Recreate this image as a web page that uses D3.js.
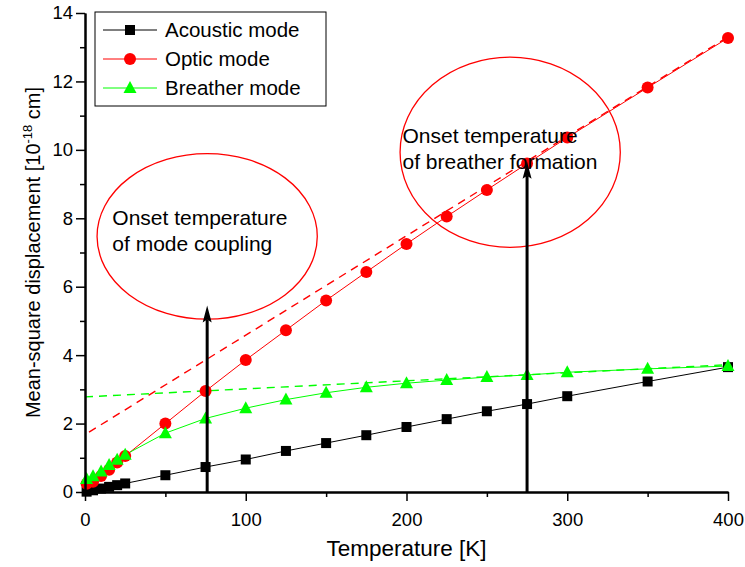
<!DOCTYPE html>
<html>
<head>
<meta charset="utf-8">
<script src="https://cdn.jsdelivr.net/npm/d3@7"></script>
<style>
  body { margin: 0; background: #fff; }
  svg text { font-family: "Liberation Sans", Arial, sans-serif; fill: #000; }
</style>
</head>
<body>
<div id="chart"></div>
<script>
// temperatures [K]
const temps = [1, 5, 10, 15, 20, 25, 50, 75, 100, 125, 150, 175, 200, 225, 250, 275, 300, 350, 400];
// mean-square displacement [1e-18 cm]
const acoustic = [0.01, 0.05, 0.1, 0.15, 0.2, 0.25, 0.49, 0.73, 0.95, 1.2, 1.43, 1.66, 1.9, 2.13, 2.36, 2.57, 2.8, 3.23, 3.65];
const optic = [0.24, 0.3, 0.47, 0.65, 0.86, 1.05, 2.0, 2.95, 3.86, 4.73, 5.6, 6.43, 7.25, 8.05, 8.83, 9.6, 10.36, 11.82, 13.27];
const breather = [0.38, 0.46, 0.6, 0.79, 0.94, 1.09, 1.72, 2.15, 2.45, 2.7, 2.9, 3.06, 3.18, 3.27, 3.36, 3.42, 3.5, 3.6, 3.68];

// dashed linear fits
const opticFitT = [2.5, 400];
const opticFit = [1.75, 13.3];
const breatherFitT = [0, 400];
const breatherFit = [2.78, 3.72];

// onset arrows
const onsetT = [76, 275];
const onsetTop = [5.45, 9.65];

// annotation ellipses (data units) and labels
const ellipses = [
  {cx: 76, cy: 7.47, rx: 68.5, ry: 2.42},
  {cx: 264.5, cy: 9.93, rx: 68.5, ry: 2.78}
];
const notes = [
  {t: 17, v: 7.8, lines: ['Onset temperature', 'of mode coupling']},
  {t: 197.5, v: 10.2, lines: ['Onset temperature', 'of breather formation']}
];

const xTicks = [0, 100, 200, 300, 400];
const yTicks = [0, 2, 4, 6, 8, 10, 12, 14];

const W = 745, H = 567;
const margin = {top: 13, right: 17, bottom: 75, left: 85};

const svg = d3.select('#chart').append('svg')
  .attr('width', W)
  .attr('height', H);

const x = d3.scaleLinear().domain([0, 400]).range([margin.left, W - margin.right]);
const y = d3.scaleLinear().domain([0, 14]).range([H - margin.bottom, margin.top]);

const series = [
  {name: 'Acoustic mode', values: acoustic, color: '#000', shape: 'square'},
  {name: 'Optic mode', values: optic, color: '#ff0000', shape: 'circle'},
  {name: 'Breather mode', values: breather, color: '#00ff00', shape: 'triangle'}
];

function marker(g, shape, color) {
  if (shape === 'square') {
    g.append('rect').attr('x', -5).attr('y', -5).attr('width', 10).attr('height', 10).attr('fill', color);
  } else if (shape === 'circle') {
    g.append('circle').attr('r', 6).attr('fill', color);
  } else {
    g.append('path').attr('d', 'M0,-7L6.5,5L-6.5,5Z').attr('fill', color);
  }
}

// ellipses
svg.append('g').selectAll('ellipse')
  .data(ellipses)
  .enter().append('ellipse')
  .attr('cx', d => x(d.cx))
  .attr('cy', d => y(d.cy))
  .attr('rx', d => x(d.rx) - x(0))
  .attr('ry', d => y(0) - y(d.ry))
  .attr('fill', 'none')
  .attr('stroke', '#ff0000')
  .attr('stroke-width', 1.3);

// dashed fits
const line = d3.line().x(d => x(d[0])).y(d => y(d[1]));
svg.append('path')
  .attr('d', line(d3.zip(opticFitT, opticFit)))
  .attr('fill', 'none').attr('stroke', '#ff0000').attr('stroke-width', 1.4)
  .attr('stroke-dasharray', '8,6');
svg.append('path')
  .attr('d', line(d3.zip(breatherFitT, breatherFit)))
  .attr('fill', 'none').attr('stroke', '#00ff00').attr('stroke-width', 1.4)
  .attr('stroke-dasharray', '8,6');

// series lines
series.forEach(s => {
  svg.append('path')
    .attr('d', line(d3.zip(temps, s.values)))
    .attr('fill', 'none')
    .attr('stroke', s.color)
    .attr('stroke-width', 1);
});

// markers
series.forEach(s => {
  svg.append('g').selectAll('g')
    .data(d3.zip(temps, s.values))
    .enter().append('g')
    .attr('transform', d => `translate(${x(d[0])},${y(d[1])})`)
    .each(function () { marker(d3.select(this), s.shape, s.color); });
});

// axes
svg.append('g')
  .attr('transform', `translate(0,${y(0)})`)
  .call(d3.axisBottom(x).tickValues(xTicks).tickSize(9).tickSizeOuter(0).tickPadding(12));
svg.append('g')
  .attr('transform', `translate(0,${y(0)})`)
  .call(d3.axisBottom(x).tickValues(d3.range(50, 400, 100)).tickSize(5).tickFormat('').tickSizeOuter(0));
svg.append('g')
  .attr('transform', `translate(${x(0)},0)`)
  .call(d3.axisLeft(y).tickValues(yTicks).tickSize(9).tickSizeOuter(0).tickPadding(3));
svg.append('g')
  .attr('transform', `translate(${x(0)},0)`)
  .call(d3.axisLeft(y).tickValues(d3.range(1, 14, 2)).tickSize(5).tickFormat('').tickSizeOuter(0));

svg.selectAll('.domain').attr('stroke-width', 2);
svg.selectAll('.tick line').attr('stroke-width', 1.5);
svg.selectAll('.tick text').style('font-size', '18.5px');

// onset arrows
svg.append('g').selectAll('line')
  .data(d3.zip(onsetT, onsetTop))
  .enter().append('line')
  .attr('x1', d => x(d[0])).attr('x2', d => x(d[0]))
  .attr('y1', y(0)).attr('y2', d => y(d[1]) + 14)
  .attr('stroke', '#000').attr('stroke-width', 3);
svg.append('g').selectAll('path')
  .data(d3.zip(onsetT, onsetTop))
  .enter().append('path')
  .attr('d', d => `M${x(d[0])},${y(d[1])}L${x(d[0]) + 4.5},${y(d[1]) + 17}L${x(d[0])},${y(d[1]) + 14}L${x(d[0]) - 4.5},${y(d[1]) + 17}Z`)
  .attr('fill', '#000');

// annotation text
notes.forEach(n => {
  const t = svg.append('text')
    .attr('x', x(n.t))
    .attr('y', y(n.v))
    .style('font-size', '21px');
  n.lines.forEach((l, i) => {
    t.append('tspan').attr('x', x(n.t)).attr('dy', i === 0 ? 0 : 26).text(l);
  });
});

// axis titles
svg.append('text')
  .attr('x', (x(0) + x(400)) / 2)
  .attr('y', 556)
  .attr('text-anchor', 'middle')
  .style('font-size', '22.5px')
  .text('Temperature [K]');

const yt = svg.append('text')
  .attr('transform', `translate(40,${(y(0) + y(14)) / 2}) rotate(-90)`)
  .attr('text-anchor', 'middle')
  .style('font-size', '20px');
yt.append('tspan').text('Mean-square displacement [10');
yt.append('tspan').attr('dy', -8).style('font-size', '13px').text('-18');
yt.append('tspan').attr('dy', 8).text(' cm]');

// legend
const legend = svg.append('g').attr('transform', 'translate(95,12)');
legend.append('rect')
  .attr('width', 231).attr('height', 94)
  .attr('fill', '#fff').attr('stroke', '#000').attr('stroke-width', 1);
series.forEach((s, i) => {
  const row = legend.append('g').attr('transform', `translate(0,${18 + i * 29})`);
  row.append('line').attr('x1', 8).attr('x2', 62).attr('y1', 0).attr('y2', 0)
    .attr('stroke', s.color).attr('stroke-width', 1);
  const m = row.append('g').attr('transform', 'translate(35,0)');
  marker(m, s.shape, s.color);
  row.append('text').attr('x', 70).attr('y', 7).style('font-size', '20.5px').text(s.name);
});
</script>
</body>
</html>
